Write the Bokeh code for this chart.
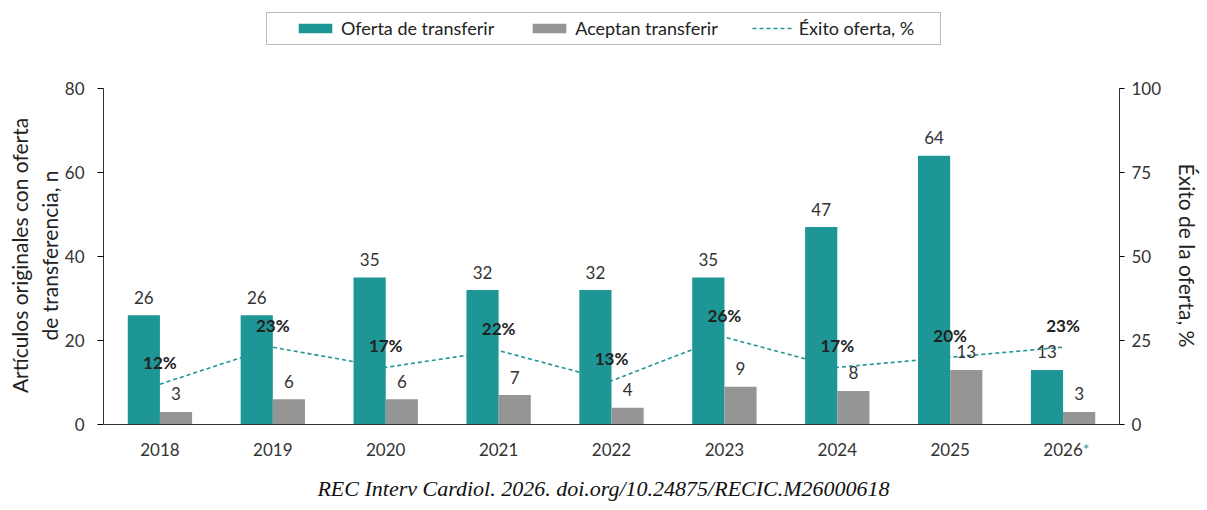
from bokeh.plotting import figure
from bokeh.models import (ColumnDataSource, Range1d, LinearAxis, FixedTicker,
                          Legend, LegendItem, Label, BoxAnnotation)
from bokeh.transform import dodge
from bokeh.core.properties import value
from bokeh.embed import file_html
from bokeh.resources import INLINE

years = ["2018", "2019", "2020", "2021", "2022", "2023", "2024", "2025", "2026"]
oferta = [26, 26, 35, 32, 32, 35, 47, 64, 13]
aceptan = [3, 6, 6, 7, 4, 9, 8, 13, 3]
exito = [12, 23, 17, 22, 13, 26, 17, 20, 23]

TEAL = "#1e9696"
GREY = "#959595"
FONT = "Lato"

src = ColumnDataSource(data=dict(
    year=years, oferta=oferta, aceptan=aceptan, exito=exito,
    oferta_txt=[str(v) for v in oferta],
    aceptan_txt=[str(v) for v in aceptan],
    exito_txt=["%d%%" % v for v in exito],
))

# the frame fills the full height so legend, footer and asterisk are not clipped;
# axes are bounded to 0-80 / 0-100 (336 px)
H = 510
TOP_PAD, BOT_PAD = 88, 86
px = 336 / 80
y_lo, y_hi = -BOT_PAD / px, 80 + TOP_PAD / px
pq = 336 / 100
xw = 1016 / len(years)

p = figure(x_range=years, y_range=Range1d(y_lo, y_hi), width=1207, height=H,
           output_backend="svg", toolbar_location=None,
           min_border_left=103, min_border_right=88,
           min_border_top=0, min_border_bottom=0)
p.extra_y_ranges = {"pct": Range1d(-BOT_PAD / pq, 100 + TOP_PAD / pq)}
p.outline_line_color = None
p.xgrid.grid_line_color = None
p.ygrid.grid_line_color = None
p.x_range.range_padding = 0

# dashed success line sits behind the bars
r_line = p.line("year", "exito", source=src, y_range_name="pct",
                line_color=TEAL, line_width=1.6, line_dash="4 3")

r_of = p.vbar(x=dodge("year", -0.1425, range=p.x_range), top="oferta", width=0.285,
              source=src, fill_color=TEAL, line_color=None)
r_ac = p.vbar(x=dodge("year", 0.1425, range=p.x_range), top="aceptan", width=0.285,
              source=src, fill_color=GREY, line_color=None)

p.text(x=dodge("year", -0.1425, range=p.x_range), y="oferta", text="oferta_txt",
       source=src, y_offset=-18, text_align="center", text_baseline="middle",
       text_font=value(FONT), text_font_size="17px", text_color="#333333")
p.text(x=dodge("year", 0.1425, range=p.x_range), y="aceptan", text="aceptan_txt",
       source=src, y_offset=-18, text_align="center", text_baseline="middle",
       text_font=value(FONT), text_font_size="17px", text_color="#333333")
p.text(x="year", y="exito", text="exito_txt", source=src, y_range_name="pct",
       y_offset=-22, text_align="center", text_baseline="middle",
       text_font=value(FONT), text_font_size="17px", text_font_style="bold",
       text_color="#222222")

# axes
xa = p.xaxis[0]
xa.fixed_location = 0
xa.major_tick_line_color = None
xa.major_tick_out = 0
xa.minor_tick_line_color = None
xa.major_label_standoff = 18
xa.axis_line_color = "#333333"
xa.major_label_text_font = FONT
xa.major_label_text_font_size = "17px"
xa.major_label_text_color = "#333333"

yl = p.yaxis[0]
yl.ticker = FixedTicker(ticks=[0, 20, 40, 60, 80])
yl.bounds = (0, 80)
yl.axis_label = "Artículos originales con oferta\nde transferencia, n"
yl.axis_label_text_font = FONT
yl.axis_label_text_font_size = "21px"
yl.axis_label_text_font_style = "normal"
yl.axis_label_text_color = "#222222"
yl.axis_label_standoff = 0
yl.major_tick_out = 6
yl.major_tick_in = 0
yl.minor_tick_line_color = None
yl.major_label_standoff = 13
yl.major_label_text_font = FONT
yl.major_label_text_font_size = "17px"
yl.major_label_text_color = "#333333"
yl.axis_line_color = "#333333"

yr = LinearAxis(y_range_name="pct", ticker=FixedTicker(ticks=[0, 25, 50, 75, 100]),
                bounds=(0, 100), axis_label="Éxito de la oferta, %")
yr.axis_label_text_font = FONT
yr.axis_label_text_font_size = "21px"
yr.axis_label_text_font_style = "normal"
yr.axis_label_text_color = "#222222"
yr.axis_label_standoff = 11
yr.major_tick_out = 5
yr.major_tick_in = 0
yr.minor_tick_line_color = None
yr.major_label_standoff = 7
yr.major_label_text_font = FONT
yr.major_label_text_font_size = "17px"
yr.major_label_text_color = "#333333"
yr.axis_line_color = "#333333"
p.add_layout(yr, "right")

# teal asterisk after 2026
p.add_layout(Label(x=8.5, y=-5.8, x_offset=23, text="*", text_color=TEAL,
                   text_font=FONT, text_font_size="16px", text_align="center",
                   text_baseline="middle"))

# legend box drawn separately so it can be wider than the items
p.add_layout(BoxAnnotation(left=(266 - 103) / xw, right=(940 - 103) / xw,
                           top=(424 - 12) / px, bottom=(424 - 44) / px,
                           fill_alpha=0, line_color="#222222", line_width=1))

legend = Legend(items=[
    LegendItem(label="Oferta de transferir", renderers=[r_of]),
    LegendItem(label="Aceptan transferir", renderers=[r_ac]),
    LegendItem(label="Éxito oferta, %", renderers=[r_line]),
], orientation="horizontal", location=(187, H - 43))
legend.label_text_font = FONT
legend.label_text_font_size = "18px"
legend.label_text_color = "#222222"
legend.glyph_width = 42
legend.glyph_height = 12
legend.label_height = 16
legend.label_standoff = 5
legend.spacing = 34
legend.padding = 4
legend.margin = 0
legend.border_line_alpha = 0
legend.background_fill_alpha = 0
p.add_layout(legend)

p.add_layout(Label(x=500, y=22, x_units="screen", y_units="screen",
                   text="REC Interv Cardiol. 2026. doi.org/10.24875/RECIC.M26000618",
                   text_font="Liberation Serif", text_font_style="italic",
                   text_font_size="22px", text_color="#111111",
                   text_align="center", text_baseline="middle"))

open("out.html", "w").write(file_html(p, INLINE))
